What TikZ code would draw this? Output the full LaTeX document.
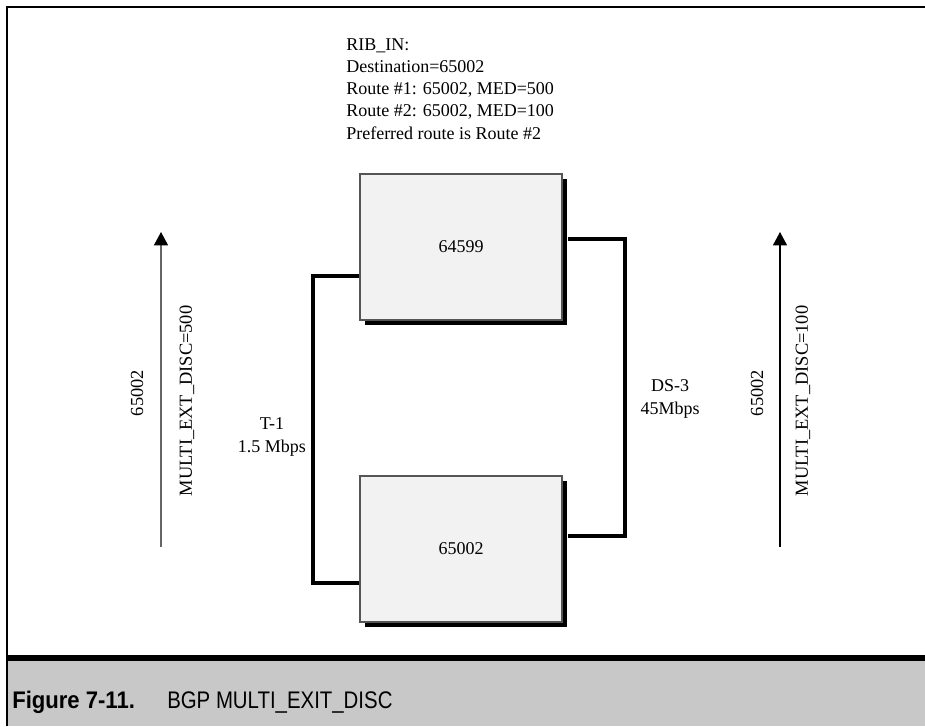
\documentclass[tikz,border=0pt]{standalone}
\usepackage{fontspec}
\setmainfont{Liberation Serif}
\setsansfont{Liberation Sans}
\usetikzlibrary{arrows.meta}
\definecolor{boxfill}{HTML}{F2F2F2}
\definecolor{boxline}{HTML}{555555}
\definecolor{arrline}{HTML}{666666}
\definecolor{band}{HTML}{C8C8C8}
\tikzset{
  router/.style={draw=boxline, line width=0.8pt, fill=boxfill, minimum width=151.5pt, minimum height=109.5pt, inner sep=0pt, font=\fontsize{13.5}{16.7}\selectfont},
  shadowbox/.style={fill=black},
  wire/.style={line width=3pt, line join=miter},
  txt/.style={font=\fontsize{13.5}{16.7}\selectfont, inner sep=0pt},
  rtxt/.style={font=\fontsize{13.8}{16.7}\selectfont, inner sep=0pt, rotate=90},
  updir/.style={line width=1pt, -{Triangle[width=10.5pt,length=10pt,color=black]}},
}
\begin{document}
\begin{tikzpicture}[x=0.75pt,y=-0.75pt]
\useasboundingbox (0,0) rectangle (925,726);
% caption band
\fill[band] (7,658) rectangle (925,726);
\draw[line width=4pt] (7,658) -- (925,658);
% frame
\draw[line width=2.2pt] (7,726) -- (7,7) -- (925,7);
% top text
\node[txt, anchor=base west] (t1) at (346,50) {RIB\_IN:};
\node[txt, anchor=base west] (t2) at (346,72.3) {Destination=65002};
\node[txt, anchor=base west] (t3) at (346,94.6) {Route \#1: 65002, MED=500};
\node[txt, anchor=base west] (t4) at (346,116.9) {Route \#2: 65002, MED=100};
\node[txt, anchor=base west] (t5) at (346,139.2) {Preferred route is Route \#2};
% shadows
\fill[shadowbox] (365,179) rectangle (567,325);
\fill[shadowbox] (365,481) rectangle (567,627);
% routers
\node[router] (b1) at (461,247) {64599};
\node[router] (b2) at (461,549) {65002};
% wires
\coordinate (l1) at (313,276);
\coordinate (l2) at (313,583);
\coordinate (r1) at (625,239);
\coordinate (r2) at (625,536);
\draw[wire] (b1.west |- l1) -- (l1) -- (l2) -- (b2.west |- l2);
\draw[wire] ([xshift=3.75pt]b1.east |- r1) -- (r1) -- (r2) -- ([xshift=3.75pt]b2.east |- r2);
% link labels
\node[txt, align=center] (tl) at (272,437) {T-1\\1.5 Mbps};
\node[txt, align=center] (dl) at (670,399) {DS-3\\45Mbps};
% arrows
\coordinate (la0) at (161,547);
\coordinate (la1) at (161,232);
\coordinate (ra0) at (780,547);
\coordinate (ra1) at (780,232);
\draw[updir, draw=arrline] (la0) -- (la1);
\draw[updir] (ra0) -- (ra1);
\node[rtxt] (la) at (137,393) {65002};
\node[rtxt] (lm) at (187,401) {MULTI\_EXT\_DISC=500};
\node[rtxt] (ra) at (757,393) {65002};
\node[rtxt] (rm) at (803,401) {MULTI\_EXT\_DISC=100};
% caption
\node[anchor=base west, inner sep=0pt, font=\sffamily\bfseries\fontsize{18}{20}\selectfont] (cap1) at (12,708) {\scalebox{0.92}[1]{Figure 7-11.}};
\node[anchor=base west, inner sep=0pt, font=\sffamily\fontsize{18}{20}\selectfont] (cap2) at (167,708) {\scalebox{0.85}[1]{BGP MULTI\_EXIT\_DISC}};
\end{tikzpicture}
\end{document}
